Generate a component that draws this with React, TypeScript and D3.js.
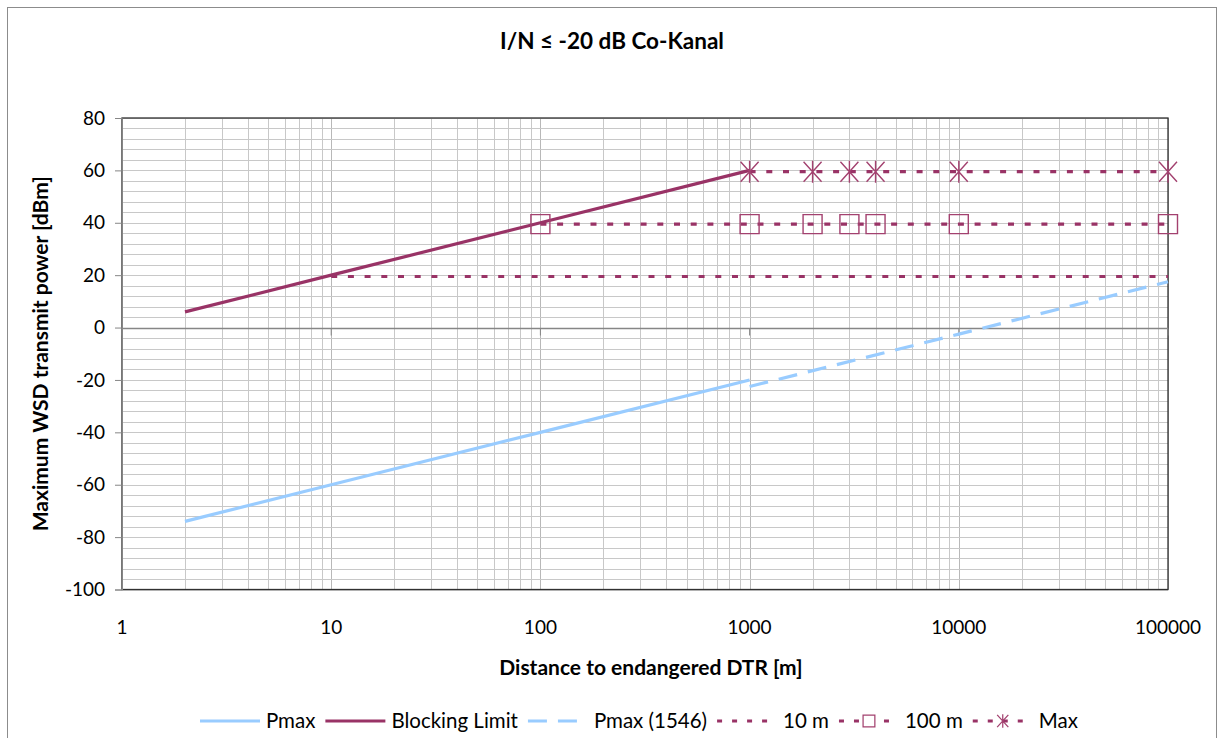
import React, { useRef, useEffect } from "react";
import * as d3 from "d3";

// series (x = distance in m, y = dBm)
const pmaxX = [2, 10, 100, 1000];
const pmaxY = [-74, -60, -40, -20];
const blockingX = [2, 10, 100, 1000];
const blockingY = [6, 20, 40, 60];
const pmax1546X = [1000, 10000, 100000];
const pmax1546Y = [-22.5, -2.5, 17.5];
const tenMX = [10, 100, 1000, 2000, 3000, 4000, 10000, 100000];
const tenMY = [19.5, 19.5, 19.5, 19.5, 19.5, 19.5, 19.5, 19.5];
const hundredMX = [100, 1000, 2000, 3000, 4000, 10000, 100000];
const hundredMY = [39.5, 39.5, 39.5, 39.5, 39.5, 39.5, 39.5];
const maxX = [1000, 2000, 3000, 4000, 10000, 100000];
const maxY = [59.5, 59.5, 59.5, 59.5, 59.5, 59.5];

const xTicks = [1, 10, 100, 1000, 10000, 100000];
const yTicks = [-100, -80, -60, -40, -20, 0, 20, 40, 60, 80];

const title = "I/N ≤ -20 dB Co-Kanal";
const xTitle = "Distance to endangered DTR [m]";
const yTitle = "Maximum WSD transmit power [dBm]";

const BLUE = "#99CCFF";
const MAROON = "#993366";
const FONT = "Lato, 'Open Sans', sans-serif";

type Pt = [number, number];
const zip = (xs: number[], ys: number[]): Pt[] => xs.map((x, i) => [x, ys[i]]);

const squarePath = "M-9.5,-9.5H9.5V9.5H-9.5Z";
const starPath = "M-9,-10L9,10M-9,10L9,-10M0,-11V11";

const App = () => {
  const svgRef = useRef<SVGSVGElement>(null);

  useEffect(() => {
    if (!svgRef.current) return;
    const svg = d3.select(svgRef.current);
    svg.selectAll("*").remove();

    const width = 1219;
    const height = 738;
    const left = 122;
    const right = 1168;
    const top = 118;
    const bottom = 589.5;

    const x = d3.scaleLog().domain([1, 100000]).range([left, right]);
    const y = d3.scaleLinear().domain([-100, 80]).range([bottom, top]);

    svg.attr("width", width).attr("height", height).style("font-family", FONT);

    // outer chart border
    svg
      .append("rect")
      .attr("x", 7.5)
      .attr("y", 7.5)
      .attr("width", 1209)
      .attr("height", 745)
      .attr("fill", "white")
      .attr("stroke", "#8c8c8c")
      .attr("stroke-width", 1);

    // gridlines
    const grid = svg.append("g");
    const vLines: number[] = [];
    for (let p = 0; p < 5; p++) {
      for (let m = 1; m < 10; m++) vLines.push(m * Math.pow(10, p));
    }
    vLines.push(100000);
    grid
      .selectAll("line.v")
      .data(vLines)
      .join("line")
      .attr("x1", (d) => Math.round(x(d)) + 0.5)
      .attr("x2", (d) => Math.round(x(d)) + 0.5)
      .attr("y1", top)
      .attr("y2", bottom)
      .attr("stroke", (d) => (xTicks.includes(d) ? "#b8b8b8" : "#c8c8c8"))
      .attr("stroke-width", 1);

    const hLines = d3.range(-100, 81, 4);
    grid
      .selectAll("line.h")
      .data(hLines)
      .join("line")
      .attr("x1", left)
      .attr("x2", right)
      .attr("y1", (d) => Math.round(y(d)) + 0.5)
      .attr("y2", (d) => Math.round(y(d)) + 0.5)
      .attr("stroke", "#c8c8c8")
      .attr("stroke-width", 1);

    // plot area border
    svg
      .append("rect")
      .attr("x", left)
      .attr("y", top)
      .attr("width", right - left)
      .attr("height", bottom - top)
      .attr("fill", "none")
      .attr("stroke", "#303030")
      .attr("stroke-width", 1.3);

    // y axis
    const yAxis = svg
      .append("g")
      .attr("transform", `translate(${left},0)`)
      .call(d3.axisLeft(y).tickValues(yTicks).tickSize(7).tickPadding(10));
    yAxis.select(".domain").attr("stroke", "#868686");
    yAxis.selectAll(".tick line").attr("stroke", "#868686");
    yAxis
      .selectAll(".tick text")
      .attr("font-size", 19)
      .attr("font-family", FONT)
      .attr("fill", "#000")
      .text((d) => String(d));

    // horizontal axis line at 0 with ticks
    const zeroY = Math.round(y(0)) + 0.5;
    svg
      .append("line")
      .attr("x1", left)
      .attr("x2", right)
      .attr("y1", zeroY)
      .attr("y2", zeroY)
      .attr("stroke", "#868686")
      .attr("stroke-width", 1.3);
    svg
      .append("g")
      .selectAll("line")
      .data(xTicks)
      .join("line")
      .attr("x1", (d) => x(d))
      .attr("x2", (d) => x(d))
      .attr("y1", zeroY)
      .attr("y2", zeroY + 7)
      .attr("stroke", "#868686");

    // x tick labels
    svg
      .append("g")
      .selectAll("text")
      .data(xTicks)
      .join("text")
      .attr("x", (d) => x(d))
      .attr("y", 634)
      .attr("text-anchor", "middle")
      .attr("font-size", 19)
      .text((d) => String(d));

    // titles
    svg
      .append("text")
      .attr("x", 612)
      .attr("y", 49)
      .attr("text-anchor", "middle")
      .attr("font-size", 22.5)
      .attr("font-weight", "bold")
      .text(title);
    svg
      .append("text")
      .attr("x", 651)
      .attr("y", 675)
      .attr("text-anchor", "middle")
      .attr("font-size", 21)
      .attr("font-weight", "bold")
      .text(xTitle);
    svg
      .append("text")
      .attr("transform", `translate(48,${(top + bottom) / 2}) rotate(-90)`)
      .attr("text-anchor", "middle")
      .attr("font-size", 21)
      .attr("font-weight", "bold")
      .text(yTitle);

    const line = d3
      .line<Pt>()
      .x((d) => x(d[0]))
      .y((d) => y(d[1]));

    const series = [
      { name: "Pmax", data: zip(pmaxX, pmaxY), color: BLUE, dash: null as string | null, marker: null as string | null },
      { name: "Blocking Limit", data: zip(blockingX, blockingY), color: MAROON, dash: null, marker: null },
      { name: "Pmax (1546)", data: zip(pmax1546X, pmax1546Y), color: BLUE, dash: "19,11", marker: null },
      { name: "10 m", data: zip(tenMX, tenMY), color: MAROON, dash: "6,10.7", marker: null },
      { name: "100 m", data: zip(hundredMX, hundredMY), color: MAROON, dash: "6,10.7", marker: squarePath },
      { name: "Max", data: zip(maxX, maxY), color: MAROON, dash: "6,10.7", marker: starPath },
    ];

    series.forEach((s) => {
      svg
        .append("path")
        .attr("d", line(s.data))
        .attr("fill", "none")
        .attr("stroke", s.color)
        .attr("stroke-width", 3.2)
        .attr("stroke-dasharray", s.dash);
      if (s.marker) {
        svg
          .append("g")
          .selectAll("path")
          .data(s.data)
          .join("path")
          .attr("transform", (d) => `translate(${x(d[0])},${y(d[1])})`)
          .attr("d", s.marker)
          .attr("fill", "none")
          .attr("stroke", "#a3416f")
          .attr("stroke-width", 1.4);
      }
    });

    // legend
    const legend = svg.append("g").attr("transform", "translate(0,721)");
    let cx = 200;
    series.forEach((s) => {
      const g = legend.append("g").attr("transform", `translate(${cx},0)`);
      g.append("line")
        .attr("x1", 0)
        .attr("x2", 60)
        .attr("y1", 0)
        .attr("y2", 0)
        .attr("stroke", s.color)
        .attr("stroke-width", 3.2)
        .attr("stroke-dasharray", s.dash ? (s.name === "Pmax (1546)" ? "19,11" : "5,10") : null);
      if (s.marker) {
        g.append("path")
          .attr("transform", "translate(30,0) scale(0.62)")
          .attr("d", s.marker)
          .attr("fill", "white")
          .attr("stroke", "#a3416f")
          .attr("stroke-width", 2);
      }
      const t = g
        .append("text")
        .attr("x", 66)
        .attr("y", 7)
        .attr("font-size", 20.5)
        .text(s.name);
      const w = (t.node() as SVGTextElement).getComputedTextLength();
      cx += 66 + w + 10;
    });
  }, []);

  return (
    <svg
      ref={svgRef}
      style={{ position: "absolute", left: 0, top: 0, display: "block" }}
    ></svg>
  );
};

export default App;
